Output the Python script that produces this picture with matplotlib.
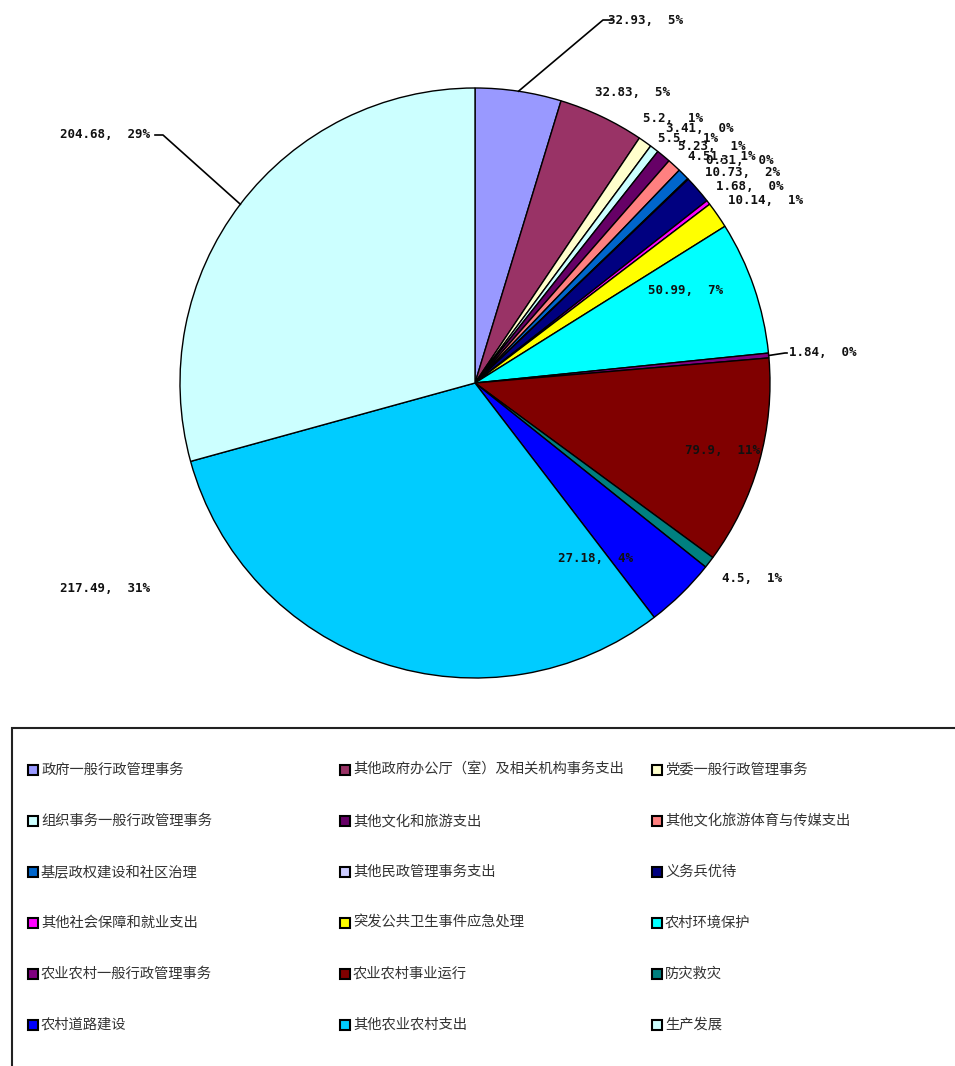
import matplotlib.pyplot as plt
import numpy as np
from matplotlib.patches import Rectangle

# 数据
names = ['政府一般行政管理事务', '其他政府办公厅（室）及相关机构事务支出', '党委一般行政管理事务',
         '组织事务一般行政管理事务', '其他文化和旅游支出', '其他文化旅游体育与传媒支出',
         '基层政权建设和社区治理', '其他民政管理事务支出', '义务兵优待',
         '其他社会保障和就业支出', '突发公共卫生事件应急处理', '农村环境保护',
         '农业农村一般行政管理事务', '农业农村事业运行', '防灾救灾',
         '农村道路建设', '其他农业农村支出', '生产发展']
values = [32.93, 32.83, 5.2, 3.41, 5.5, 5.23, 4.51, 0.31, 10.73,
          1.68, 10.14, 50.99, 1.84, 79.9, 4.5, 27.18, 217.49, 204.68]
colors = ['#9999FF', '#993366', '#FFFFCC', '#CCFFFF', '#660066', '#FF8080',
          '#0066CC', '#CCCCFF', '#000080', '#FF00FF', '#FFFF00', '#00FFFF',
          '#800080', '#800000', '#008080', '#0000FF', '#00CCFF', '#CCFFFF']

# 标签位置（像素，从顶部算）
label_pos = [(645, 20), (632, 93), (673, 119), (700, 128), (688, 138), (712, 146),
             (722, 157), (740, 160), (742, 172), (750, 186), (765, 200), (685, 290),
             (823, 353), (722, 450), (752, 578), (595, 558), (105, 588), (105, 135)]
# 需要引导线的标签
leaders = {0: (603, 20, 612), 12: (785, 353, 787), 17: (163, 135, 155)}

W, H = 955, 1066
plt.rcParams['font.family'] = ['Noto Sans CJK SC', 'DejaVu Sans']
fig = plt.figure(figsize=(W / 100, H / 100), dpi=100)
ax = fig.add_axes([0, 0, 1, 1])

cx, cy, R = 475, H - 383, 295
wedges, _ = ax.pie(values, colors=colors, startangle=90, counterclock=False,
                   center=(cx, cy), radius=R, frame=True,
                   wedgeprops=dict(edgecolor='black', linewidth=1.0))

total = sum(values)
for i, v in enumerate(values):
    pct = round(v / total * 100)
    x, y = label_pos[i]
    ax.text(x, H - y, f'{v:g},  {pct}%', fontsize=9, family='DejaVu Sans Mono',
            fontweight='bold', ha='center', va='center', color='#111111')
    if i in leaders:
        w = wedges[i]
        mid = np.deg2rad((w.theta1 + w.theta2) / 2)
        sx, sy = cx + R * np.cos(mid), cy + R * np.sin(mid)
        ex, ey, hx = leaders[i]
        ax.plot([sx, ex, hx], [sy, H - ey, H - ey], color='black', lw=1.2)

# 图例
ax.add_patch(Rectangle((12, -10), 960, H - 728 + 10, fill=False,
                       edgecolor='#222222', lw=1.5, clip_on=False))
for i, name in enumerate(names):
    col, row = i % 3, i // 3
    x = 28 + col * 312
    y = H - (770 + row * 51)
    ax.add_patch(Rectangle((x, y - 5), 10, 10, facecolor=colors[i],
                           edgecolor='black', lw=1.5))
    ax.text(x + 13, y, name, fontsize=10.3, va='center', ha='left', color='#333333')

ax.set_xlim(0, W)
ax.set_ylim(0, H)
ax.set_aspect('equal')
ax.axis('off')

fig.savefig('out.png', dpi=100)
